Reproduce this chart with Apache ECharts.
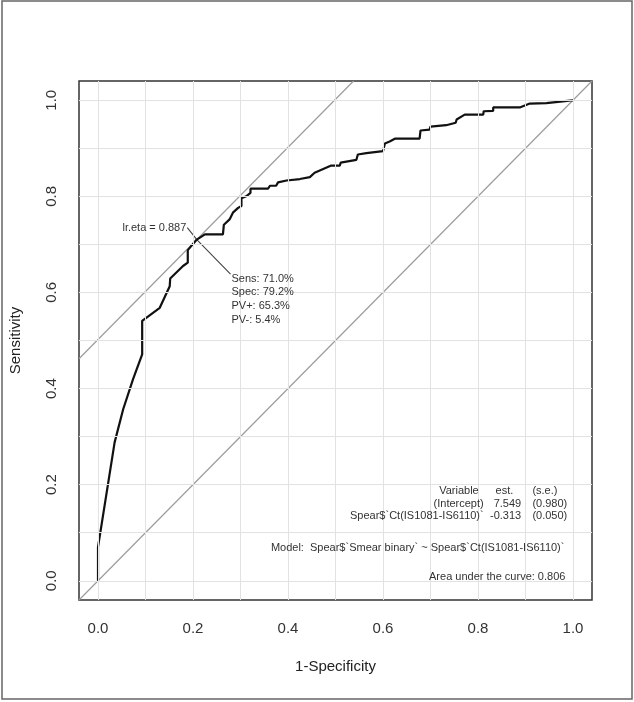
<!DOCTYPE html>
<html>
<head>
<meta charset="utf-8">
<script src="https://cdn.jsdelivr.net/npm/echarts@6/dist/echarts.min.js"></script>
<style>
  html, body { margin: 0; padding: 0; background: #fff; }
  #main { width: 634px; height: 702px; }
</style>
</head>
<body>
<div id="main"></div>
<script>
// ROC curve: 1-specificity and sensitivity
var rocFpr = [0, 0, 0.035, 0.053, 0.074, 0.093, 0.093, 0.13, 0.151, 0.152, 0.179, 0.189, 0.189, 0.208,
  0.225, 0.263, 0.265, 0.277, 0.284, 0.295, 0.302, 0.302, 0.312, 0.321, 0.321, 0.358, 0.362, 0.375,
  0.379, 0.397, 0.425, 0.446, 0.456, 0.491, 0.509, 0.511, 0.544, 0.547, 0.565, 0.6, 0.604, 0.614,
  0.625, 0.677, 0.679, 0.698, 0.7, 0.733, 0.753, 0.755, 0.772, 0.811, 0.812, 0.832, 0.832, 0.888,
  0.909, 0.944, 0.946, 0.983, 0.986, 1];
var rocSens = [0, 0.07, 0.288, 0.357, 0.42, 0.471, 0.541, 0.568, 0.613, 0.629, 0.655, 0.662, 0.688, 0.71,
  0.721, 0.721, 0.741, 0.752, 0.766, 0.776, 0.78, 0.796, 0.8, 0.807, 0.816, 0.816, 0.822, 0.822,
  0.829, 0.833, 0.836, 0.84, 0.849, 0.864, 0.864, 0.87, 0.876, 0.887, 0.89, 0.894, 0.91, 0.914,
  0.92, 0.92, 0.937, 0.939, 0.945, 0.948, 0.953, 0.96, 0.97, 0.97, 0.977, 0.978, 0.985, 0.985,
  0.993, 0.994, 0.998, 0.998, 1, 1];

// optimal cut-off
var optSens = 0.710, optSpec = 0.792;
var optFpr = 1 - optSpec;
var lrEta = '0.887';
var optTexts = ['Sens: 71.0%', 'Spec: 79.2%', 'PV+: 65.3%', 'PV-: 5.4%'];

// model table
var tableHead = ['Variable', 'est.', '(s.e.)'];
var tableRows = [
  ['(Intercept)', '7.549', '(0.980)'],
  ['Spear$`Ct(IS1081-IS6110)`', '-0.313', '(0.050)']
];
var modelText = 'Model:  Spear$`Smear binary` ~ Spear$`Ct(IS1081-IS6110)`';
var aucText = 'Area under the curve: 0.806';

var tickValues = [0, 0.2, 0.4, 0.6, 0.8, 1.0];
var gridValues = [0, 0.1, 0.2, 0.3, 0.4, 0.5, 0.6, 0.7, 0.8, 0.9, 1.0];
var axMin = -0.04, axMax = 1.04;

var FONT = '"Liberation Sans", Arial, Helvetica, sans-serif';
var chart = echarts.init(document.getElementById('main'));

var rocData = rocFpr.map(function (x, i) { return [x, rocSens[i]]; });
var icpt = optSens - optFpr; // tangent line: y = x + icpt

var gridLines = [];
gridValues.forEach(function (v) {
  gridLines.push({ xAxis: v });
  gridLines.push({ yAxis: v });
});

function axisOf(name, gap, isY) {
  return {
    type: 'value',
    min: axMin,
    max: axMax,
    name: name,
    nameLocation: 'middle',
    nameGap: gap,
    nameRotate: isY ? 90 : 0,
    nameTextStyle: { fontSize: 15, color: '#222', fontFamily: FONT },
    axisLine: { show: false },
    splitLine: { show: false },
    axisTick: {
      show: true, length: 10, customValues: tickValues,
      lineStyle: { color: '#444', width: 1 }
    },
    axisLabel: {
      customValues: tickValues,
      fontSize: 15, color: '#333', fontFamily: FONT,
      margin: isY ? 20 : 21,
      rotate: isY ? 90 : 0,
      formatter: function (v) { return v.toFixed(1); }
    }
  };
}

chart.setOption({
  animation: false,
  grid: {
    left: 78, right: 42, top: 81, bottom: 102,
    show: true, borderColor: '#333', borderWidth: 1.5, backgroundColor: '#fff'
  },
  xAxis: axisOf('1-Specificity', 59, false),
  yAxis: axisOf('Sensitivity', 56, true),
  series: [
    {
      type: 'line',
      name: 'diag',
      data: [[axMin, axMin], [axMax, axMax]],
      symbol: 'none',
      lineStyle: { color: '#9c9c9c', width: 1.2 },
      markLine: {
        silent: true,
        symbol: 'none',
        label: { show: false },
        lineStyle: { color: '#e2e2e2', width: 1, type: 'solid' },
        data: gridLines
      }
    },
    {
      type: 'line',
      name: 'tangent',
      data: [[axMin, axMin + icpt], [axMax - icpt, axMax]],
      symbol: 'none',
      lineStyle: { color: '#9c9c9c', width: 1.2 }
    },
    {
      type: 'line',
      name: 'pointer',
      data: [[0.188, 0.735], [optFpr, optSens], [0.279, 0.638]],
      symbol: 'none',
      lineStyle: { color: '#444', width: 1.1 }
    },
    {
      type: 'line',
      name: 'roc',
      data: rocData,
      symbol: 'none',
      lineStyle: { color: '#111', width: 2.2 }
    }
  ]
});

// text labels placed in data coordinates
function txt(text, x, y, align) {
  var p = chart.convertToPixel({ gridIndex: 0 }, [x, y]);
  return {
    type: 'text', x: p[0], y: p[1], z: 100,
    style: {
      text: text, fill: '#333', fontSize: 11, fontFamily: FONT,
      align: align || 'right', verticalAlign: 'middle'
    }
  };
}

var g = [{
  type: 'rect', z: 100,
  shape: { x: 2, y: 1, width: 630, height: 698 },
  style: { fill: 'none', stroke: '#666', lineWidth: 1.5 }
}];

g.push(txt('lr.eta = ' + lrEta, 0.186, 0.735, 'right'));
optTexts.forEach(function (t, i) {
  g.push(txt(t, 0.281, 0.629 - i * 0.0285, 'left'));
});

// table columns: names right-aligned, estimates right-aligned, s.e. left-aligned
var rowY = [0.1875, 0.160, 0.1344];
g.push(txt(tableHead[0], 0.8015, rowY[0], 'right'));
g.push(txt(tableHead[1], 0.837, rowY[0], 'left'));
g.push(txt(tableHead[2], 0.9145, rowY[0], 'left'));
tableRows.forEach(function (row, i) {
  g.push(txt(row[0], 0.812, rowY[i + 1], 'right'));
  g.push(txt(row[1], 0.891, rowY[i + 1], 'right'));
  g.push(txt(row[2], 0.9145, rowY[i + 1], 'left'));
});
g.push(txt(modelText, 0.982, 0.068));
g.push(txt(aucText, 0.984, 0.008));

chart.setOption({ graphic: g });
</script>
</body>
</html>
